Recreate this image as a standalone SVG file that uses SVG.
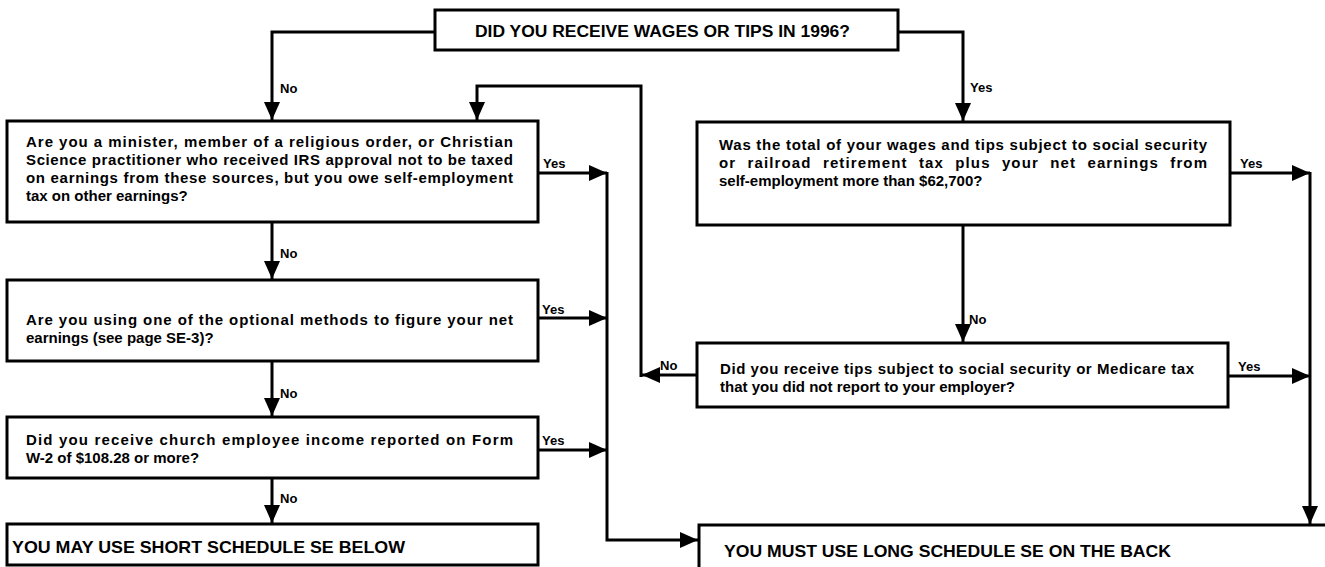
<svg xmlns="http://www.w3.org/2000/svg" width="1325" height="567" viewBox="0 0 1325 567">
<style>
.box{fill:#fff;stroke:#000;stroke-width:3}
.t{font-family:"Liberation Sans",Arial,sans-serif;font-weight:700;font-size:15px;fill:#000}
.h{font-family:"Liberation Sans",Arial,sans-serif;font-weight:900;font-size:16px;fill:#000}
.hb{font-family:"Liberation Sans",Arial,sans-serif;font-weight:900;font-size:17px;fill:#000}
.lb{font-family:"Liberation Sans",Arial,sans-serif;font-weight:700;font-size:13px;fill:#000}
.c{fill:none;stroke:#000;stroke-width:3}
</style>
<defs>
<marker id="ah" markerUnits="userSpaceOnUse" markerWidth="20" markerHeight="16" refX="18" refY="8" orient="auto">
<path d="M0,0 L18,8 L0,16 Z" fill="#000"/>
</marker>
</defs>
<rect width="1325" height="567" fill="#fff"/>
<g id="connectors">
<path class="c" d="M435,32 H272 V120" marker-end="url(#ah)"/>
<path class="c" d="M898,32 H963 V121" marker-end="url(#ah)"/>
<path class="c" d="M272,222 V279" marker-end="url(#ah)"/>
<path class="c" d="M272,361 V416" marker-end="url(#ah)"/>
<path class="c" d="M272,478 V523" marker-end="url(#ah)"/>
<path class="c" d="M963,225 V342" marker-end="url(#ah)"/>
<path class="c" d="M697,375 H642" marker-end="url(#ah)"/>
<path class="c" d="M641,377 V86 H477 V120" marker-end="url(#ah)"/>
<path class="c" d="M538,173 H607" marker-end="url(#ah)"/>
<path class="c" d="M538,318 H607" marker-end="url(#ah)"/>
<path class="c" d="M538,450 H607" marker-end="url(#ah)"/>
<path class="c" d="M607,172 V540 H698" marker-end="url(#ah)"/>
<path class="c" d="M1230,173 H1310" marker-end="url(#ah)"/>
<path class="c" d="M1228,376 H1310" marker-end="url(#ah)"/>
<path class="c" d="M1310,172 V524" marker-end="url(#ah)"/>
<text class="lb" x="280" y="93">No</text>
<text class="lb" x="970" y="92">Yes</text>
<text class="lb" x="543" y="168">Yes</text>
<text class="lb" x="542" y="314">Yes</text>
<text class="lb" x="542" y="445">Yes</text>
<text class="lb" x="280" y="258">No</text>
<text class="lb" x="280" y="398">No</text>
<text class="lb" x="280" y="503">No</text>
<text class="lb" x="1240" y="168">Yes</text>
<text class="lb" x="969" y="324">No</text>
<text class="lb" x="660" y="370">No</text>
<text class="lb" x="1238" y="371">Yes</text>
</g>
<g id="start">
<rect class="box" x="435" y="10" width="463" height="40"/>
<text class="h" x="475" y="37" textLength="375" lengthAdjust="spacingAndGlyphs">DID YOU RECEIVE WAGES OR TIPS IN 1996?</text>
</g>
<g id="q-minister">
<rect class="box" x="7" y="121" width="531" height="101"/>
<text class="t" x="26" y="147" textLength="487" lengthAdjust="spacing">Are you a minister, member of a religious order, or Christian</text>
<text class="t" x="26" y="165" textLength="487" lengthAdjust="spacing">Science practitioner who received IRS approval not to be taxed</text>
<text class="t" x="26" y="183" textLength="487" lengthAdjust="spacing">on earnings from these sources, but you owe self-employment</text>
<text class="t" x="26" y="201">tax on other earnings?</text>
</g>
<g id="q-optional">
<rect class="box" x="7" y="280" width="531" height="81"/>
<text class="t" x="26" y="325" textLength="487" lengthAdjust="spacing">Are you using one of the optional methods to figure your net</text>
<text class="t" x="26" y="343">earnings (see page SE-3)?</text>
</g>
<g id="q-church">
<rect class="box" x="7" y="417" width="531" height="61"/>
<text class="t" x="26" y="445" textLength="487" lengthAdjust="spacing">Did you receive church employee income reported on Form</text>
<text class="t" x="26" y="463">W-2 of $108.28 or more?</text>
</g>
<g id="short-se">
<rect class="box" x="7" y="524" width="531" height="41"/>
<text class="hb" x="12" y="553" textLength="393" lengthAdjust="spacingAndGlyphs">YOU MAY USE SHORT SCHEDULE SE BELOW</text>
</g>
<g id="q-total">
<rect class="box" x="697" y="122" width="533" height="103"/>
<text class="t" x="719" y="150" textLength="488" lengthAdjust="spacing">Was the total of your wages and tips subject to social security</text>
<text class="t" x="719" y="168" word-spacing="6" textLength="488" lengthAdjust="spacing">or railroad retirement tax plus your net earnings from</text>
<text class="t" x="719" y="186">self-employment more than $62,700?</text>
</g>
<g id="q-tips">
<rect class="box" x="697" y="343" width="531" height="64"/>
<text class="t" x="720" y="374" textLength="474" lengthAdjust="spacing">Did you receive tips subject to social security or Medicare tax</text>
<text class="t" x="720" y="392">that you did not report to your employer?</text>
</g>
<g id="long-se">
<rect class="box" x="699" y="525" width="640" height="60"/>
<text class="hb" x="724" y="557" textLength="447" lengthAdjust="spacingAndGlyphs">YOU MUST USE LONG SCHEDULE SE ON THE BACK</text>
</g>
</svg>
